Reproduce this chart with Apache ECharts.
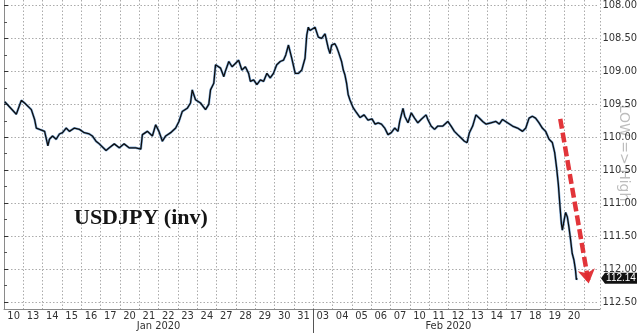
<!DOCTYPE html>
<html><head><meta charset="utf-8">
<script src="https://cdn.jsdelivr.net/npm/echarts@6/dist/echarts.min.js"></script>
<style>html,body{margin:0;padding:0;background:#fff}#c{width:640px;height:333px}</style>
</head><body><div id="c"></div>
<script>
// x positions are trading-day offsets from 10 Jan 2020 open
const dayLabels = ['10','13','14','15','16','17','20','21','22','23','24','27','28','29','30','31','03','04','05','06','07','10','11','12','13','14','17','18','19','20'];
const monthLabels = ['Jan 2020', 'Feb 2020'];
const monthCenters = [8, 23];
const monthBreak = 16;
const yTicks = [108, 108.5, 109, 109.5, 110, 110.5, 111, 111.5, 112, 112.5];
const tDays = [0.04,0.09,0.64,0.90,1.07,1.42,1.59,1.68,1.85,2.11,2.28,2.36,2.52,2.71,2.88,3.04,3.23,3.40,3.66,3.92,4.17,4.43,4.59,4.78,4.95,5.30,5.47,5.73,5.99,6.24,6.50,6.85,7.11,7.19,7.45,7.71,7.88,8.05,8.23,8.40,8.66,8.92,9.09,9.26,9.52,9.69,9.78,9.95,10.21,10.47,10.64,10.73,10.90,10.99,11.07,11.25,11.42,11.50,11.68,11.85,12.02,12.19,12.36,12.54,12.71,12.80,12.97,13.14,13.32,13.49,13.66,13.83,14.00,14.17,14.35,14.52,14.64,14.78,14.87,14.95,15.13,15.30,15.47,15.64,15.73,15.81,15.90,15.99,16.16,16.24,16.33,16.50,16.68,16.85,16.94,17.02,17.19,17.28,17.37,17.54,17.63,17.71,17.80,17.88,17.97,18.14,18.30,18.50,18.71,18.91,19.12,19.28,19.44,19.61,19.78,19.95,20.12,20.30,20.47,20.56,20.73,20.82,20.99,21.16,21.33,21.50,21.67,21.93,22.02,22.19,22.37,22.54,22.80,23.06,23.23,23.40,23.57,23.75,23.92,24.06,24.18,24.35,24.52,24.70,24.87,25.04,25.30,25.56,25.73,25.90,26.16,26.42,26.68,26.94,27.11,27.28,27.45,27.62,27.80,27.97,28.14,28.32,28.49,28.61,28.71,28.80,28.89,28.96,29.01,29.10,29.18,29.27,29.35,29.44,29.52,29.61,29.69,29.74,29.78];
const usdjpy = [109.46,109.48,109.65,109.44,109.48,109.58,109.73,109.86,109.88,109.91,110.13,110.03,109.98,110.03,109.95,109.93,109.86,109.91,109.86,109.88,109.93,109.95,109.98,110.06,110.10,110.20,110.16,110.10,110.16,110.10,110.16,110.16,110.18,109.96,109.91,109.98,109.81,109.91,110.06,109.98,109.93,109.86,109.76,109.61,109.56,109.48,109.28,109.43,109.48,109.58,109.50,109.28,109.18,108.90,108.88,108.95,109.08,109.00,108.85,108.93,108.88,108.83,108.98,108.93,109.03,109.15,109.13,109.20,109.13,109.15,109.03,109.10,109.03,108.90,108.85,108.83,108.75,108.60,108.62,108.80,109.03,109.03,108.98,108.80,108.45,108.33,108.38,108.35,108.33,108.40,108.48,108.50,108.43,108.65,108.73,108.60,108.58,108.63,108.70,108.85,108.98,109.05,109.18,109.35,109.43,109.55,109.62,109.70,109.66,109.74,109.72,109.80,109.78,109.80,109.86,109.96,109.93,109.86,109.91,109.76,109.56,109.68,109.78,109.63,109.71,109.78,109.73,109.66,109.73,109.83,109.88,109.83,109.83,109.76,109.83,109.91,109.96,110.01,110.06,110.08,109.93,109.83,109.66,109.71,109.76,109.80,109.78,109.76,109.80,109.73,109.78,109.83,109.86,109.91,109.86,109.71,109.68,109.71,109.78,109.86,109.91,110.03,110.08,110.23,110.46,110.71,111.06,111.31,111.41,111.26,111.14,111.21,111.36,111.56,111.76,111.86,112.01,112.16,112.14];
const lastPrice = 112.14;
const arrowFrom = [28.9, 109.72];
const arrowTo = [30.38, 112.22];

const series = tDays.map((t, i) => [t, usdjpy[i]]);
const chart = echarts.init(document.getElementById('c'), null, {renderer: 'canvas'});
const grey = '#ababab';
const dotted = {show: true, lineStyle: {color: grey, type: [1.5, 2], width: 1}};
const XMAX = 30.83;
const allMonthSlots = Array.from({length: 32}, (_, i) => {
  const k = monthCenters.indexOf(i);
  return k >= 0 ? monthLabels[k] : '';
});
const dayCats = dayLabels.concat(['']);
const axFont = 'DejaVu Sans Condensed, Liberation Sans, sans-serif';

chart.setOption({
  animation: false,
  grid: [
    {left: 4, right: 40, top: 3, height: 299},
    {left: 4, right: 40, top: 0, height: 309},
    {left: 4, width: 599, top: 0, height: 309}
  ],
  xAxis: [
    {gridIndex: 0, type: 'value', min: 0, max: XMAX, show: false},
    {gridIndex: 1, type: 'value', min: 0, max: XMAX, interval: 1,
      axisLine: {show: true, lineStyle: {color: '#8a8a8a'}}, axisTick: {show: false}, axisLabel: {show: false},
      splitLine: Object.assign({showMinLine: false}, dotted)},
    {gridIndex: 2, type: 'category', position: 'bottom', data: dayCats, boundaryGap: true,
      axisLine: {show: false}, axisTick: {show: false}, splitLine: {show: false},
      axisLabel: {interval: 0, margin: 2, fontSize: 11, color: '#333', fontFamily: axFont}},
    {gridIndex: 2, type: 'category', position: 'bottom', data: allMonthSlots, boundaryGap: false,
      axisLine: {show: false}, splitLine: {show: false},
      axisTick: {show: true, interval: (i) => i === monthBreak, length: 24, lineStyle: {color: '#555'}},
      axisLabel: {interval: 0, margin: 12, fontSize: 11, color: '#333', fontFamily: axFont}}
  ],
  yAxis: [
    {gridIndex: 0, type: 'value', inverse: true, min: yTicks[0], max: yTicks[yTicks.length - 1], interval: 0.5, position: 'right',
      axisLine: {show: false},
      axisTick: {show: true, length: 4, lineStyle: {color: '#333'}},
      minorTick: {show: true, splitNumber: 2, length: 3, lineStyle: {color: '#555'}},
      axisLabel: {margin: 5, fontSize: 11, color: '#333', formatter: v => v.toFixed(2), fontFamily: axFont},
      splitLine: dotted},
    {gridIndex: 1, type: 'value', position: 'right', min: 0, max: 1,
      axisLine: {show: true, lineStyle: {color: '#8a8a8a'}}, axisTick: {show: false}, axisLabel: {show: false}, splitLine: {show: false}},
    {gridIndex: 2, type: 'value', show: false}
  ],
  series: [
    {type: 'line', xAxisIndex: 0, yAxisIndex: 0, data: series, showSymbol: false, silent: true,
      lineStyle: {color: '#4a88c8', width: 2.4, opacity: 0.7}, z: 2},
    {type: 'line', xAxisIndex: 0, yAxisIndex: 0, data: series, showSymbol: false, silent: true,
      lineStyle: {color: '#0d0d0d', width: 1.3}, z: 3,
      markLine: {silent: true, symbol: ['none', 'arrow'], symbolSize: [13, 14],
        lineStyle: {color: '#e02a2f', width: 4.5, type: [10, 4], opacity: 0.95},
        label: {show: false},
        data: [[{coord: arrowFrom}, {coord: arrowTo}]]}}
  ]
});

const py = chart.convertToPixel({yAxisIndex: 0}, lastPrice);
chart.setOption({
  graphic: [
    {type: 'text', left: 74, top: 207, style: {text: 'USDJPY (inv)', font: 'bold 22px "Liberation Serif", serif', fill: '#151515'}},
    {type: 'polygon', shape: {points: [[601, py], [605, py - 5.5], [637, py - 5.5], [637, py + 5.5], [605, py + 5.5]]}, style: {fill: '#111'}},
    {type: 'text', x: 621, y: py, style: {text: lastPrice.toFixed(2), font: '10px "Liberation Sans", sans-serif', fill: '#fff', align: 'center', verticalAlign: 'middle'}},
    {type: 'text', x: 624, y: 153, rotation: -Math.PI / 2, style: {text: 'LOW => High', font: '14px "DejaVu Sans", sans-serif', fill: '#bdbdbd', align: 'center', verticalAlign: 'middle'}}
  ]
});
</script></body></html>
